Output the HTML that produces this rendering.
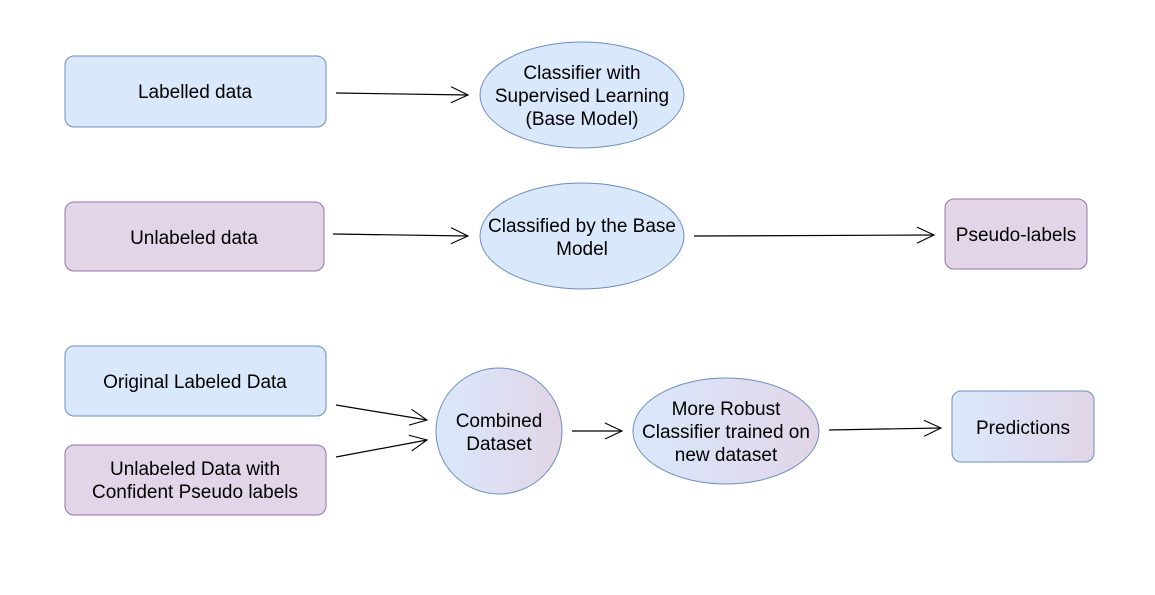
<!DOCTYPE html>
<html><head><style>html,body{margin:0;padding:0;background:#fff;}svg{display:block}</style></head>
<body>
<svg width="1155" height="595" viewBox="0 0 1155 595" xmlns="http://www.w3.org/2000/svg" font-family="Liberation Sans, Arial, sans-serif" font-size="19" fill="#000">
<defs>
<linearGradient id="g" x1="0" y1="0" x2="1" y2="0"><stop offset="0" stop-color="#dae8fc"/><stop offset="1" stop-color="#e1d5e7"/></linearGradient>
<marker id="a" markerWidth="20" markerHeight="20" refX="18" refY="10" orient="auto" markerUnits="userSpaceOnUse"><path d="M1,2 L18,10 L1,18" fill="none" stroke="#000" stroke-width="1.1"/></marker>
</defs>
<g stroke-width="1">
<rect x="65" y="56" width="261" height="71" rx="9" fill="#dae8fc" stroke="#6c8ebf"/>
<ellipse cx="582" cy="95" rx="102" ry="53" fill="#dae8fc" stroke="#6c8ebf"/>
<rect x="65" y="202" width="259" height="69" rx="9" fill="#e1d5e7" stroke="#9673a6"/>
<ellipse cx="582" cy="236" rx="102" ry="53" fill="#dae8fc" stroke="#6c8ebf"/>
<rect x="945" y="199" width="142" height="70" rx="9" fill="#e1d5e7" stroke="#9673a6"/>
<rect x="65" y="346" width="261" height="70" rx="9" fill="#dae8fc" stroke="#6c8ebf"/>
<rect x="65" y="445" width="261" height="70" rx="9" fill="#e1d5e7" stroke="#9673a6"/>
<circle cx="499" cy="431" r="63" fill="url(#g)" stroke="#6c8ebf"/>
<ellipse cx="726" cy="431" rx="93" ry="53" fill="url(#g)" stroke="#6c8ebf"/>
<rect x="952" y="391" width="142" height="71" rx="9" fill="url(#g)" stroke="#6c8ebf"/>
</g>
<g stroke="#000" stroke-width="1.2" fill="none" marker-end="url(#a)">
<line x1="336" y1="93" x2="468" y2="95"/>
<line x1="333" y1="234" x2="468" y2="236"/>
<line x1="694" y1="236" x2="934" y2="235"/>
<line x1="336" y1="405" x2="427" y2="420"/>
<line x1="336" y1="457" x2="427" y2="440"/>
<line x1="572" y1="431" x2="622" y2="431"/>
<line x1="829" y1="430" x2="941" y2="428"/>
</g>
<g text-anchor="middle">
<text x="195" y="98">Labelled data</text>
<text x="582" y="79">Classifier with</text>
<text x="582" y="102">Supervised Learning</text>
<text x="582" y="125">(Base Model)</text>
<text x="194" y="244">Unlabeled data</text>
<text x="582" y="232">Classified by the Base</text>
<text x="582" y="255">Model</text>
<text x="1016" y="241">Pseudo-labels</text>
<text x="195" y="388">Original Labeled Data</text>
<text x="195" y="475">Unlabeled Data with</text>
<text x="195" y="498">Confident Pseudo labels</text>
<text x="499" y="427">Combined</text>
<text x="499" y="450">Dataset</text>
<text x="726" y="415">More Robust</text>
<text x="726" y="438">Classifier trained on</text>
<text x="726" y="461">new dataset</text>
<text x="1023" y="434">Predictions</text>
</g>
</svg>
</body></html>
